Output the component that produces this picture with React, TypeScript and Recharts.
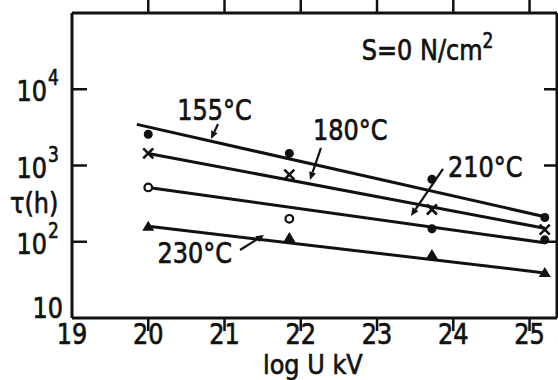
import React from "react";
import {
  ComposedChart,
  Scatter,
  XAxis,
  YAxis,
  ReferenceDot,
  ReferenceLine,
} from "recharts";

// measured points (log U kV vs tau in hours)
const voltage = [20, 21.85, 23.72, 25.2];
const tau155 = [2570, 1440, 660, 208];
const tau180 = [1440, 760, 265, 144];
const tau210 = [515, 200, 148, 106];
const tau230 = [157, 112, 67, 39];

// fitted lines, end points
const fitX155 = [19.85, 25.2];
const fit155 = [3460, 213];
const fitX = [20, 25.2];
const fit180 = [1440, 150];
const fit210 = [515, 97];
const fit230 = [160, 39];

const X_MIN = 19;
const X_MAX = 25.36;
const Y_MIN = 10;
const Y_MAX = 100000;
const xTicks = [19, 20, 21, 22, 23, 24, 25];
const yTicks = [10, 100, 1000, 10000];
const yExp: Record<number, string> = { 100: "2", 1000: "3", 10000: "4" };

// annotation labels, placed in data units
const labelText = ["155°C", "180°C", "210°C", "230°C"];
const labelX = [20.38, 22.16, 23.93, 20.12];
const labelY = [3955, 2160, 706, 52.6];
const arrowFrom = [
  { x: 20.915, y: 3500 },
  { x: 22.265, y: 1700 },
  { x: 23.865, y: 900 },
  { x: 21.203, y: 78 },
];
const arrowTo = [
  { x: 20.823, y: 2230 },
  { x: 22.121, y: 646 },
  { x: 23.445, y: 218 },
  { x: 21.518, y: 123 },
];

const FONT = "DejaVu Sans";
const INK = "#111";

const toPts = (xs: number[], ys: number[]) => xs.map((x, i) => ({ x, y: ys[i] }));

// tall, slightly heavier text like the scanned lettering
function Txt({ x, y, size = 24, sy = 1.2, anchor = "start", children }: any) {
  return (
    <text
      transform={`translate(${x},${y}) scale(1,${sy})`}
      fontFamily={FONT}
      fontSize={size}
      fill={INK}
      stroke={INK}
      strokeWidth={0.6}
      textAnchor={anchor}
    >
      {children}
    </text>
  );
}

const Dot = (p: any) => <circle cx={p.cx} cy={p.cy} r={4.5} fill={INK} />;
const Ring = (p: any) => (
  <circle cx={p.cx} cy={p.cy} r={3.8} fill="#fff" stroke={INK} strokeWidth={2.2} />
);
const Cross = (p: any) => (
  <g stroke={INK} strokeWidth={2.6}>
    <line x1={p.cx - 5} y1={p.cy - 5} x2={p.cx + 5} y2={p.cy + 5} />
    <line x1={p.cx - 5} y1={p.cy + 5} x2={p.cx + 5} y2={p.cy - 5} />
  </g>
);
const Tri = (p: any) => (
  <polygon
    points={`${p.cx},${p.cy - 6} ${p.cx - 6},${p.cy + 4} ${p.cx + 6},${p.cy + 4}`}
    fill={INK}
  />
);
const NoShape = () => <g />;

function BottomTick({ x, y, payload }: any) {
  return (
    <Txt x={x} y={y + 26} sy={1.15} anchor="middle">
      {payload.value}
    </Txt>
  );
}

function LeftTick({ x, y, payload }: any) {
  const v = payload.value;
  if (v === 10) {
    return (
      <Txt x={x - 9} y={y} anchor="end">
        10
      </Txt>
    );
  }
  return (
    <g>
      <Txt x={x - 25} y={y + 12} anchor="end">
        10
      </Txt>
      <Txt x={x - 24} y={y - 4} size={17}>
        {yExp[v]}
      </Txt>
    </g>
  );
}

// inward tick marks at both ends of a full-height / full-width reference line
const VTicks = (p: any) => (
  <g stroke={INK} strokeWidth={2.5}>
    <line x1={p.x1} y1={p.y1} x2={p.x1} y2={p.y1 + 13} />
    <line x1={p.x2} y1={p.y2} x2={p.x2} y2={p.y2 - 13} />
  </g>
);
const HTicks = (p: any) => {
  const l = Math.min(p.x1, p.x2);
  const r = Math.max(p.x1, p.x2);
  return (
    <g stroke={INK} strokeWidth={2.5}>
      <line x1={l} y1={p.y1} x2={l + 15} y2={p.y1} />
      <line x1={r} y1={p.y1} x2={r - 13} y2={p.y1} />
    </g>
  );
};

const Arrow = (p: any) => {
  const { x1, y1, x2, y2 } = p;
  const a = Math.atan2(y2 - y1, x2 - x1);
  const L = 8;
  const W = 3.5;
  const bx = x2 - L * Math.cos(a);
  const by = y2 - L * Math.sin(a);
  return (
    <g>
      <line x1={x1} y1={y1} x2={bx} y2={by} stroke={INK} strokeWidth={2.2} />
      <polygon
        points={`${x2},${y2} ${bx - W * Math.sin(a)},${by + W * Math.cos(a)} ${bx + W * Math.sin(a)},${by - W * Math.cos(a)}`}
        fill={INK}
      />
    </g>
  );
};

export default function App() {
  const axisLine = { stroke: INK, strokeWidth: 3 };
  return (
    <div style={{ position: "absolute", left: 0, top: 0, background: "#fff" }}>
      <ComposedChart
        width={558}
        height={380}
        margin={{ top: 13, right: 1, bottom: 0, left: 0 }}
      >
        <XAxis
          xAxisId="b"
          type="number"
          dataKey="x"
          domain={[X_MIN, X_MAX]}
          ticks={xTicks}
          allowDataOverflow
          height={62}
          axisLine={axisLine}
          tickLine={false}
          tickSize={0}
          tickMargin={0}
          tick={<BottomTick />}
          label={{
            content: (p: any) => (
              <Txt x={p.viewBox.x + 191} y={p.viewBox.y + 56} sy={1.1}>
                log U kV
              </Txt>
            ),
          }}
        />
        <YAxis
          yAxisId="l"
          scale="log"
          type="number"
          dataKey="y"
          domain={[Y_MIN, Y_MAX]}
          ticks={yTicks}
          allowDataOverflow
          width={72}
          axisLine={axisLine}
          tickLine={false}
          tickSize={0}
          tickMargin={0}
          tick={<LeftTick />}
          label={{
            content: (p: any) => (
              <Txt x={10} y={p.viewBox.y + 200}>
                τ(h)
              </Txt>
            ),
          }}
        />

        {/* top and right sides of the frame */}
        <ReferenceLine xAxisId="b" yAxisId="l" y={Y_MAX} stroke={INK} strokeWidth={3} />
        <ReferenceLine xAxisId="b" yAxisId="l" x={X_MAX} stroke={INK} strokeWidth={3} />
        {/* inward tick marks */}
        {xTicks.slice(1).map((t) => (
          <ReferenceLine key={"xt" + t} xAxisId="b" yAxisId="l" x={t} shape={VTicks} />
        ))}
        {yTicks.slice(1).map((t) => (
          <ReferenceLine key={"yt" + t} xAxisId="b" yAxisId="l" y={t} shape={HTicks} />
        ))}

        <Scatter xAxisId="b" yAxisId="l" data={toPts(fitX155, fit155)} line={{ stroke: INK, strokeWidth: 3 }} shape={NoShape} isAnimationActive={false} />
        <Scatter xAxisId="b" yAxisId="l" data={toPts(fitX, fit180)} line={{ stroke: INK, strokeWidth: 3 }} shape={NoShape} isAnimationActive={false} />
        <Scatter xAxisId="b" yAxisId="l" data={toPts(fitX, fit210)} line={{ stroke: INK, strokeWidth: 3 }} shape={NoShape} isAnimationActive={false} />
        <Scatter xAxisId="b" yAxisId="l" data={toPts(fitX, fit230)} line={{ stroke: INK, strokeWidth: 3 }} shape={NoShape} isAnimationActive={false} />

        <Scatter xAxisId="b" yAxisId="l" data={toPts(voltage, tau155)} shape={Dot} isAnimationActive={false} />
        <Scatter xAxisId="b" yAxisId="l" data={toPts(voltage, tau180)} shape={Cross} isAnimationActive={false} />
        <Scatter xAxisId="b" yAxisId="l" data={toPts(voltage.slice(0, 2), tau210.slice(0, 2))} shape={Ring} isAnimationActive={false} />
        <Scatter xAxisId="b" yAxisId="l" data={toPts(voltage.slice(2), tau210.slice(2))} shape={Dot} isAnimationActive={false} />
        <Scatter xAxisId="b" yAxisId="l" data={toPts(voltage, tau230)} shape={Tri} isAnimationActive={false} />

        {arrowFrom.map((f, i) => (
          <ReferenceLine
            key={"a" + i}
            xAxisId="b"
            yAxisId="l"
            segment={[f, arrowTo[i]]}
            shape={Arrow}
          />
        ))}
        {labelText.map((t, i) => (
          <ReferenceDot
            key={"l" + i}
            xAxisId="b"
            yAxisId="l"
            x={labelX[i]}
            y={labelY[i]}
            r={0}
            shape={(p: any) => <Txt x={p.cx} y={p.cy}>{t}</Txt>}
          />
        ))}
        <ReferenceDot
          xAxisId="b"
          yAxisId="l"
          x={22.8}
          y={24200}
          r={0}
          shape={(p: any) => (
            <Txt x={p.cx} y={p.cy}>
              S=0 N/cm
              <tspan fontSize={17} dy={-10}>2</tspan>
            </Txt>
          )}
        />
      </ComposedChart>
    </div>
  );
}
